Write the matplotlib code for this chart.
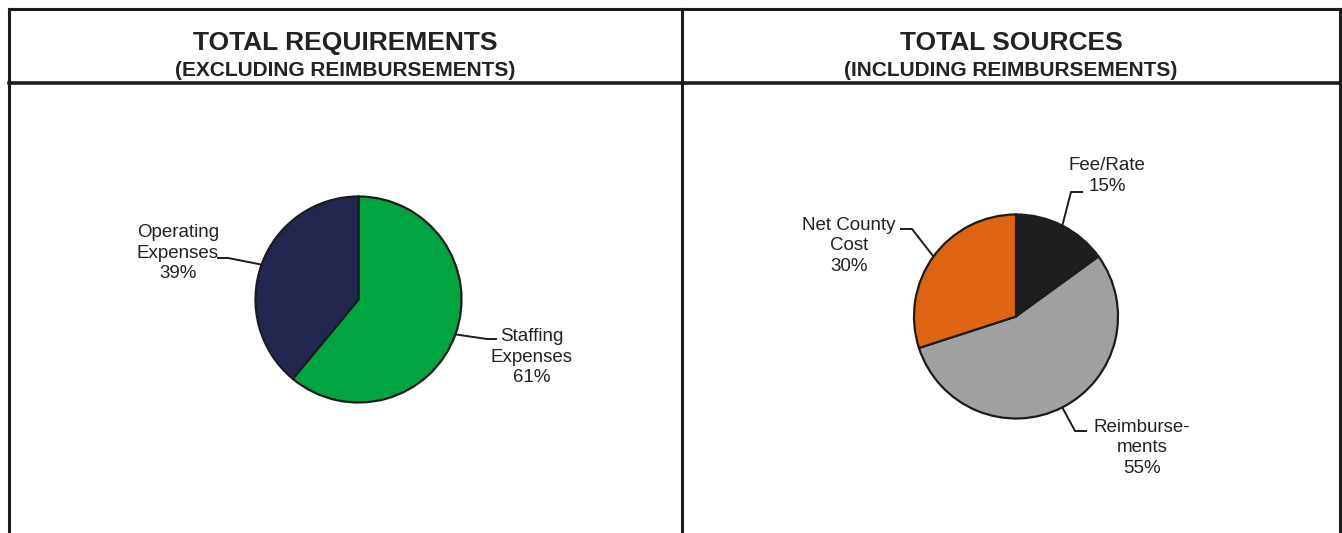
import matplotlib.pyplot as plt
import numpy as np

# data
req_labels = ['Staffing\nExpenses', 'Operating\nExpenses']
req_values = [61, 39]
req_colors = ['#00a440', '#232750']

src_labels = ['Fee/Rate', 'Reimburse-\nments', 'Net County\nCost']
src_values = [15, 55, 30]
src_colors = ['#1e1e1e', '#a0a0a0', '#de6312']

W, H = 1342, 533
plt.rcParams['font.family'] = ['Liberation Sans', 'DejaVu Sans']

fig = plt.figure(figsize=(W / 100, H / 100), dpi=100)
ax = fig.add_axes([0, 0, 1, 1])

# pixel-based layout (y measured from top of image)
def py(y):
    return H - y

line_col = '#1c1c1c'
txt_col = '#222222'


def draw_pie(values, labels, colors, cx, cy, r, label_pos, elbows, ends):
    wedges, _ = ax.pie(values, colors=colors, startangle=90, counterclock=False,
                       center=(cx, py(cy)), radius=r,
                       wedgeprops=dict(edgecolor=line_col, linewidth=1.6))
    for w, lab, v, (lx, ly), (ex, ey), (tx, ty) in zip(wedges, labels, values,
                                                       label_pos, elbows, ends):
        mid = np.deg2rad((w.theta1 + w.theta2) / 2)
        px = cx + r * np.cos(mid)
        pyy = py(cy) + r * np.sin(mid)
        ax.plot([px, ex, tx], [pyy, py(ey), py(ty)], color=line_col, lw=1.4,
                solid_capstyle='butt', clip_on=False)
        ax.text(lx, py(ly), f'{lab}\n{v}%', ha='center', va='center',
                fontsize=13.5, color=txt_col, linespacing=1.3)


draw_pie(req_values, req_labels, req_colors, 358.5, 299.5, 103,
         label_pos=[(532, 357), (178, 253)],
         elbows=[(487, 339), (228, 258)],
         ends=[(497, 339), (217, 258)])

draw_pie(src_values, src_labels, src_colors, 1016, 316.5, 102,
         label_pos=[(1107, 176), (1142, 448), (849, 246)],
         elbows=[(1071, 192), (1075, 431), (912, 229)],
         ends=[(1083, 192), (1087, 431), (900, 229)])

# panel borders
ax.plot([9, 1340], [py(9), py(9)], color=line_col, lw=2.2)
ax.plot([9, 1340], [py(83), py(83)], color=line_col, lw=2.6)
for x in [9, 682, 1340]:
    ax.plot([x, x], [py(9), py(H + 5)], color=line_col, lw=2.2)

# titles
titles = [('TOTAL REQUIREMENTS', '(EXCLUDING REIMBURSEMENTS)', 345.5),
          ('TOTAL SOURCES', '(INCLUDING REIMBURSEMENTS)', 1011)]
for t, sub, x in titles:
    ax.text(x, py(43), t, ha='center', va='center', fontsize=19,
            fontweight='bold', color=txt_col)
    ax.text(x, py(71), sub, ha='center', va='center', fontsize=15,
            fontweight='bold', color=txt_col)

ax.set_xlim(0, W)
ax.set_ylim(0, H)
ax.set_aspect('auto')
ax.axis('off')

fig.savefig('out.png', dpi=100, facecolor='white')
